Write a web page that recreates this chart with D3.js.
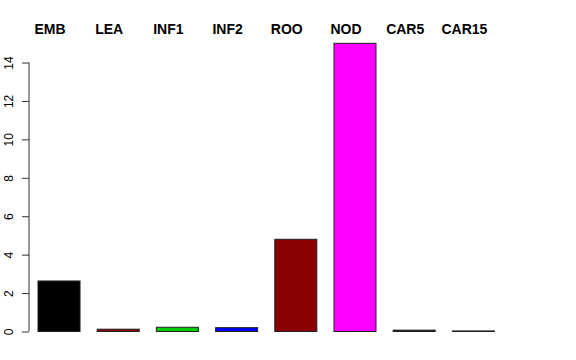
<!DOCTYPE html>
<html>
<head>
<meta charset="utf-8">
<script src="https://cdn.jsdelivr.net/npm/d3@7"></script>
<style>
  html, body { margin: 0; padding: 0; background: #fff; }
  svg { display: block; }
  text { font-family: "Liberation Sans", Arial, Helvetica, sans-serif; }
</style>
</head>
<body>
<svg id="chart" width="576" height="360"></svg>
<script>
const categories = ["EMB", "LEA", "INF1", "INF2", "ROO", "NOD", "CAR5", "CAR15"];
const values = [2.63, 0.12, 0.22, 0.2, 4.8, 15.0, 0.07, 0.03];
const colors = ["#000000", "#8B0000", "#00CD00", "#0000FF", "#8B0000", "#FF00FF", "#000000", "#999999"];
const yTicks = [0, 2, 4, 6, 8, 10, 12, 14];

const svg = d3.select("#chart");

const x = d3.scaleBand()
  .domain(categories)
  .range([38, 494.4])
  .paddingInner(0.29)
  .paddingOuter(0);

const y = d3.scaleLinear()
  .domain([0, 15])
  .range([331.5, 43.3]);

// bars
svg.append("g").selectAll("rect")
  .data(categories)
  .join("rect")
  .attr("x", d => x(d))
  .attr("y", (d, i) => y(values[i]))
  .attr("width", x.bandwidth())
  .attr("height", (d, i) => y(0) - y(values[i]))
  .attr("fill", (d, i) => colors[i])
  .attr("stroke", "#222")
  .attr("stroke-width", 1);

// category labels on top
svg.append("g").selectAll("text")
  .data(categories)
  .join("text")
  .attr("x", d => x(d) + x.bandwidth() / 2 - 9)
  .attr("y", 34)
  .attr("text-anchor", "middle")
  .attr("font-size", 14)
  .attr("font-weight", "bold")
  .attr("fill", "#000")
  .text(d => d);

// y axis
const axis = d3.axisLeft(y).tickValues(yTicks).tickSize(7).tickPadding(0).tickFormat(d3.format("d"));
const ga = svg.append("g").attr("transform", "translate(29,0)").call(axis);
ga.select(".domain").attr("d", `M0,${y(0)}V${y(14)}`).attr("stroke", "#333");
ga.selectAll(".tick line").attr("stroke", "#333");
ga.selectAll(".tick text")
  .attr("x", null).attr("dy", null)
  .attr("text-anchor", "middle")
  .attr("font-size", 12)
  .attr("font-family", "Liberation Sans, Arial, sans-serif")
  .attr("fill", "#000")
  .attr("transform", "translate(-16.5,0) rotate(-90)");
</script>
</body>
</html>
